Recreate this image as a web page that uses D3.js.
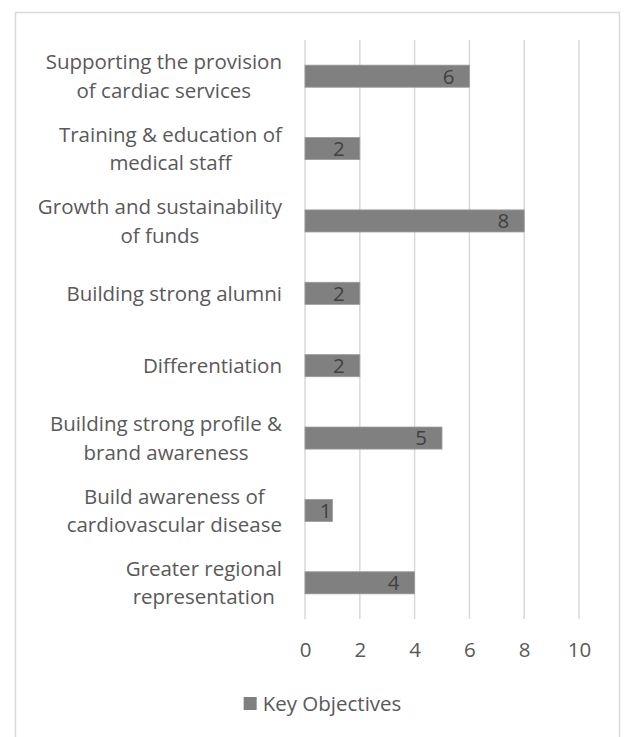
<!DOCTYPE html>
<html>
<head>
<meta charset="utf-8">
<script src="https://cdn.jsdelivr.net/npm/d3@7"></script>
<style>
  body { margin: 0; background: #fff; }
  svg { font-family: "Open Sans", "Liberation Sans", sans-serif; }
</style>
</head>
<body>
<div id="chart"></div>
<script>
// Data, top bar first
const categories = [
    ["Supporting the provision", "of cardiac services"],
    ["Training & education of", "medical staff"],
    ["Growth and sustainability", "of funds"],
    ["Building strong alumni"],
    ["Differentiation"],
    ["Building strong profile &", "brand awareness"],
    ["Build awareness of", "cardiovascular disease"],
    ["Greater regional", "representation"]
];
const values = [6, 2, 8, 2, 2, 5, 1, 4];
const xTicks = [0, 2, 4, 6, 8, 10];
const seriesName = "Key Objectives";

const width = 629;
const height = 737;
const margin = {top: 40, left: 305, right: 50, bottom: 118};
const fontSize = "20.5px";

const svg = d3.select("#chart")
    .append("svg")
    .attr("width", width)
    .attr("height", height);

// Chart border
svg.append("rect")
    .attr("x", 15.5)
    .attr("y", 12.5)
    .attr("width", 604)
    .attr("height", 740)
    .attr("fill", "none")
    .attr("stroke", "#d9d9d9")
    .attr("stroke-width", 1.5);

const x = d3.scaleLinear()
    .domain([0, 10])
    .range([margin.left, width - margin.right]);

const y = d3.scaleBand()
    .domain(d3.range(categories.length))
    .range([margin.top, height - margin.bottom])
    .paddingInner(0.695)
    .paddingOuter(0.3475);

const yFull = d3.scaleBand()
    .domain(d3.range(categories.length))
    .range([margin.top, height - margin.bottom]);

// Gridlines
svg.append("g")
    .selectAll("line")
    .data(xTicks)
    .enter()
    .append("line")
    .attr("x1", d => x(d))
    .attr("x2", d => x(d))
    .attr("y1", margin.top)
    .attr("y2", height - margin.bottom)
    .attr("stroke", "#d9d9d9")
    .attr("stroke-width", 1.5);

// Bars
svg.append("g")
    .selectAll("rect")
    .data(values)
    .enter()
    .append("rect")
    .attr("x", x(0))
    .attr("y", (d, i) => y(i))
    .attr("width", d => x(d) - x(0))
    .attr("height", y.bandwidth())
    .attr("fill", "#808080")
    .attr("stroke", "#9a9a9a")
    .attr("stroke-width", 0.8);

// Value labels (inside end; moved to the very end when the label box does not fit)
svg.append("g")
    .selectAll("text")
    .data(values)
    .enter()
    .append("text")
    .attr("y", (d, i) => y(i) + y.bandwidth() / 2)
    .attr("dy", "0.36em")
    .attr("text-anchor", "end")
    .style("font-size", fontSize)
    .style("fill", "#404040")
    .text(d => d)
    .each(function(d) {
        const w = this.getComputedTextLength();
        const end = (x(d) - 15 - w - 8 < x(0)) ? x(d) - 1 : x(d) - 15;
        d3.select(this).attr("x", end);
    });

// X axis tick labels
const xAxis = d3.axisBottom(x).tickValues(xTicks).tickSize(0).tickPadding(0);
const axisG = svg.append("g")
    .attr("transform", `translate(0, ${height - margin.bottom + 31})`)
    .call(xAxis);
axisG.select(".domain").remove();
axisG.selectAll("text")
    .attr("dy", "0.36em")
    .style("font-size", fontSize)
    .style("font-family", "\"Open Sans\", sans-serif")
    .style("fill", "#595959");

// Category labels: lines centered with each other, block right-aligned
const labelRight = 282;
const lineGap = 28.5;
categories.forEach((lines, i) => {
    const g = svg.append("g");
    const cy = yFull(i) + yFull.bandwidth() / 2;
    const texts = lines.map((line, j) => g.append("text")
        .attr("y", cy + (j - (lines.length - 1) / 2) * lineGap)
        .attr("dy", "0.36em")
        .attr("text-anchor", "middle")
        .style("font-size", fontSize)
        .style("fill", "#595959")
        .text(line));
    const maxW = d3.max(texts, t => t.node().getComputedTextLength());
    texts.forEach(t => t.attr("x", labelRight - maxW / 2));
});

// Legend
const legend = svg.append("g");
const legendText = legend.append("text")
    .attr("y", 704)
    .attr("dy", "0.36em")
    .style("font-size", fontSize)
    .style("fill", "#595959")
    .text(seriesName);
const tw = legendText.node().getComputedTextLength();
const lx = (width - (tw + 19)) / 2 + 8;
legend.append("rect")
    .attr("x", lx)
    .attr("y", 697)
    .attr("width", 13)
    .attr("height", 13)
    .attr("fill", "#808080");
legendText.attr("x", lx + 19);
</script>
</body>
</html>
